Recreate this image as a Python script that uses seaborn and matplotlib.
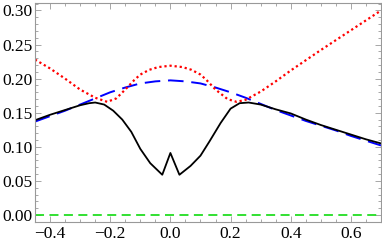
import numpy as np
import pandas as pd
import matplotlib
matplotlib.use("Agg")
import matplotlib.pyplot as plt
import seaborn as sns
from matplotlib.ticker import MultipleLocator

# Data
black_x = [-0.45, -0.4, -0.35, -0.3, -0.27, -0.25, -0.22, -0.19, -0.16, -0.13, -0.1, -0.067,
           -0.027, 0.0, 0.03, 0.067, 0.1, 0.13, 0.167, 0.2, 0.23, 0.26, 0.3, 0.35, 0.4, 0.45,
           0.5, 0.55, 0.6, 0.65, 0.7]
black_y = [0.139, 0.147, 0.154, 0.161, 0.164, 0.165, 0.162, 0.153, 0.140, 0.122, 0.097, 0.076,
           0.059, 0.091, 0.059, 0.072, 0.087, 0.108, 0.135, 0.156, 0.164, 0.165, 0.162, 0.155,
           0.149, 0.140, 0.132, 0.125, 0.118, 0.111, 0.105]

blue_x = [-0.45, -0.4, -0.35, -0.3, -0.25, -0.2, -0.15, -0.1, -0.05, 0.0, 0.05, 0.1, 0.15,
          0.2, 0.25, 0.3, 0.35, 0.4, 0.45, 0.5, 0.55, 0.6, 0.65, 0.7]
blue_y = [0.137, 0.145, 0.153, 0.162, 0.171, 0.180, 0.187, 0.193, 0.196, 0.1975, 0.196, 0.193,
          0.187, 0.180, 0.172, 0.163, 0.154, 0.146, 0.138, 0.131, 0.124, 0.116, 0.109, 0.102]

red_x = [-0.45, -0.4, -0.35, -0.3, -0.25, -0.21, -0.18, -0.15, -0.12, -0.1, -0.07, -0.04, 0.0,
         0.04, 0.07, 0.1, 0.12, 0.15, 0.19, 0.22, 0.25, 0.3, 0.35, 0.4, 0.5, 0.6, 0.7]
red_y = [0.228, 0.215, 0.200, 0.184, 0.172, 0.166, 0.171, 0.184, 0.198, 0.206, 0.213, 0.217,
         0.219, 0.217, 0.213, 0.206, 0.198, 0.184, 0.170, 0.166, 0.169, 0.181, 0.196, 0.212,
         0.242, 0.271, 0.300]

green_x = [-0.45, 0.7]
green_y = [0.0, 0.0]

x_ticks = [-0.4, -0.2, 0.0, 0.2, 0.4, 0.6]
y_ticks = [0.00, 0.05, 0.10, 0.15, 0.20, 0.25, 0.30]

sns.set_style("ticks")
plt.rcParams['font.family'] = ['Liberation Serif', 'DejaVu Serif']

fig = plt.figure(figsize=(3.82, 2.45), dpi=100)
ax = fig.add_axes([35/382, 1-222/245, 346/382, 219/245])

sns.lineplot(x=green_x, y=green_y, ax=ax, color='#22dd22', lw=1.3, estimator=None, sort=False)
ax.lines[-1].set_dashes([5, 3])
sns.lineplot(x=blue_x, y=blue_y, ax=ax, color='#0000ff', lw=1.4, estimator=None, sort=False)
ax.lines[-1].set_dashes([8, 4])
sns.lineplot(x=red_x, y=red_y, ax=ax, color='#ff0000', lw=1.6, estimator=None, sort=False)
ax.lines[-1].set_dashes([1, 1.3])
sns.lineplot(x=black_x, y=black_y, ax=ax, color='black', lw=1.3, estimator=None, sort=False)

ax.set_xlim(-0.45, 0.7)
ax.set_ylim(-0.0103, 0.311)
ax.set_xticks(x_ticks)
ax.set_yticks(y_ticks)
ax.set_xticklabels(['\u22120.4', '\u22120.2', '0.0', '0.2', '0.4', '0.6'])
ax.set_yticklabels([f"{v:.2f}" for v in y_ticks])
ax.xaxis.set_minor_locator(MultipleLocator(0.05))
ax.yaxis.set_minor_locator(MultipleLocator(0.01))

frame_c = '#999999'
for s in ax.spines.values():
    s.set_color(frame_c)
    s.set_linewidth(0.8)
ax.tick_params(which='both', direction='in', top=True, right=True, color=frame_c,
               labelsize=12.5, labelcolor='black', width=0.6)
ax.tick_params(which='major', length=4, pad=3)
ax.tick_params(axis='y', which='major', pad=2)
ax.tick_params(which='minor', length=2)
ax.set_xlabel('')
ax.set_ylabel('')

fig.savefig('out.png', dpi=100)
